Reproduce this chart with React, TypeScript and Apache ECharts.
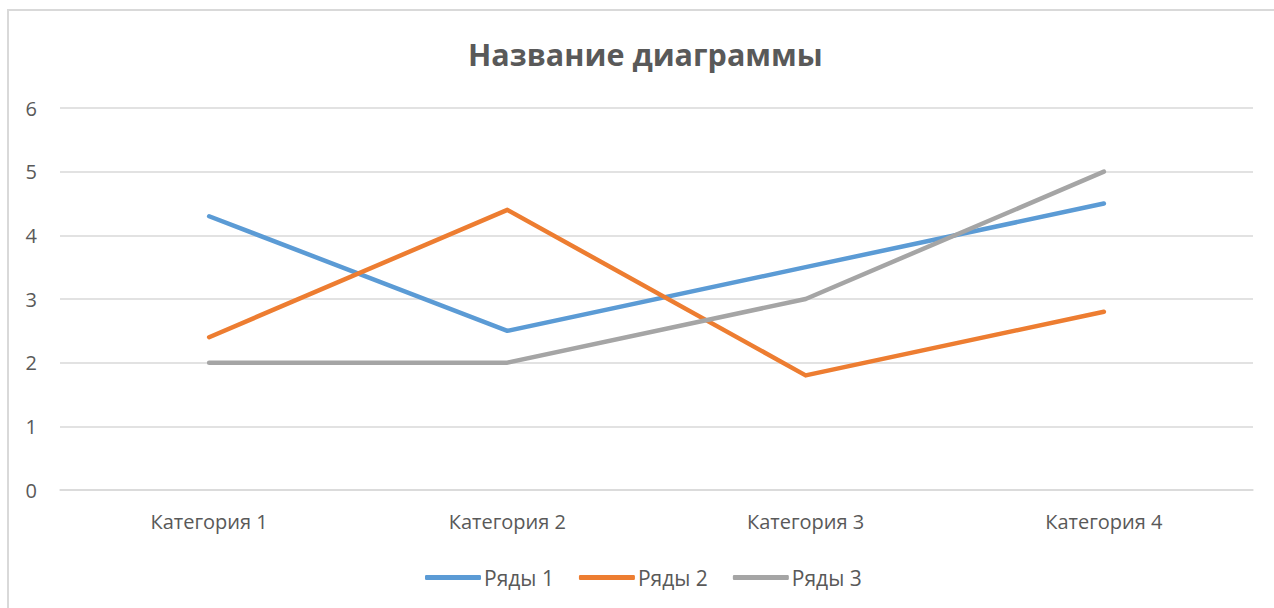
import React, { useEffect, useRef } from "react";
import * as echarts from "echarts";

const categories = ["Категория 1", "Категория 2", "Категория 3", "Категория 4"];
const seriesNames = ["Ряды 1", "Ряды 2", "Ряды 3"];
const series1 = [4.3, 2.5, 3.5, 4.5];
const series2 = [2.4, 4.4, 1.8, 2.8];
const series3 = [2, 2, 3, 5];
const colors = ["#5B9BD5", "#ED7D31", "#A5A5A5"];
const titleText = "Название диаграммы";

export default function App() {
  const ref = useRef<HTMLDivElement>(null);
  useEffect(() => {
    if (!ref.current) return;
    const chart = echarts.init(ref.current, undefined, { renderer: "svg" });
    const font = "'Open Sans', 'Noto Sans', sans-serif";
    const data = [series1, series2, series3];
    chart.setOption({
      animation: false,
      textStyle: { fontFamily: font },
      title: {
        text: titleText,
        left: 463,
        top: 33,
        textStyle: { fontSize: 30.5, fontWeight: "bold", color: "#595959", fontFamily: font },
      },
      graphic: [
        {
          type: "rect",
          shape: { x: 8, y: 10, width: 1300, height: 700 },
          style: { fill: "none", stroke: "#d9d9d9", lineWidth: 2 },
          silent: true,
        },
      ],
      legend: {
        bottom: 15,
        left: 420,
        itemWidth: 56,
        itemHeight: 5,
        itemGap: 25,
        icon: "roundRect",
        textStyle: { fontSize: 21, color: "#595959", fontFamily: font, padding: [0, 0, 0, -2] },
        data: seriesNames,
      },
      grid: { left: 60, right: 21, top: 108, bottom: 118 },
      xAxis: {
        type: "category",
        data: categories,
        boundaryGap: true,
        axisLine: { show: true, lineStyle: { color: "#d9d9d9", width: 1.5 } },
        axisTick: { show: false },
        axisLabel: { fontSize: 20, color: "#595959", margin: 21, fontFamily: font },
      },
      yAxis: {
        type: "value",
        min: 0,
        max: 6,
        interval: 1,
        axisLine: { show: false },
        axisTick: { show: false },
        splitLine: { lineStyle: { color: "#d9d9d9", width: 1.5 } },
        axisLabel: { fontSize: 20, color: "#595959", margin: 23, fontFamily: font },
      },
      series: seriesNames.map((name, i) => ({
        name,
        type: "line",
        data: data[i],
        showSymbol: false,
        symbol: "none",
        lineStyle: { width: 4.5, color: colors[i], cap: "round", join: "round" },
        itemStyle: { color: colors[i] },
      })),
    });
    return () => chart.dispose();
  }, []);
  return (
    <div style={{ position: "fixed", inset: 0, overflow: "hidden", background: "#fff" }}>
      <div ref={ref} style={{ position: "absolute", left: 0, top: 0, width: 1274, height: 608 }} />
    </div>
  );
}
